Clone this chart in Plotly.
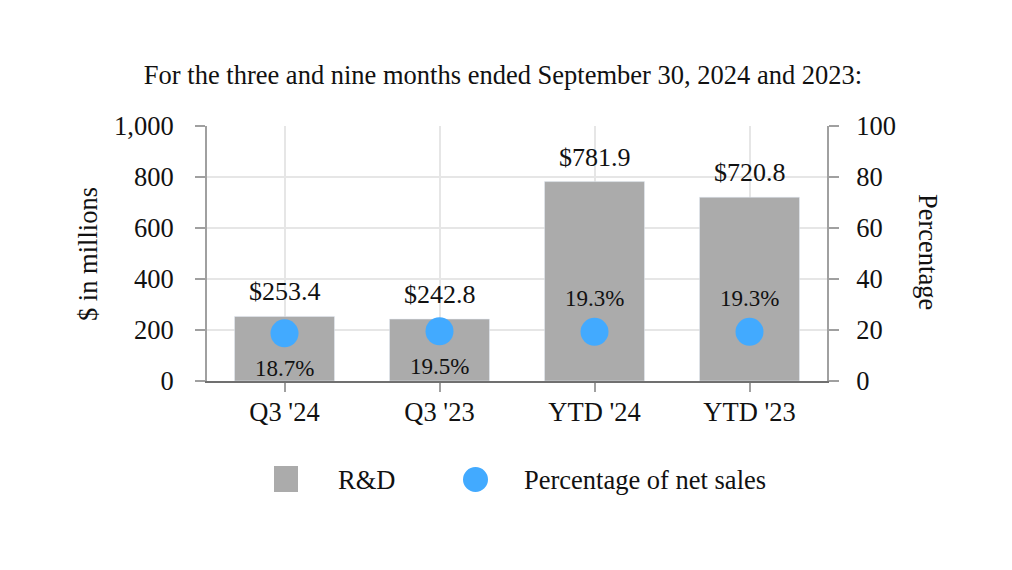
import plotly.graph_objects as go

categories = ["Q3 '24", "Q3 '23", "YTD '24", "YTD '23"]
rd_values = [253.4, 242.8, 781.9, 720.8]
pct_values = [18.7, 19.5, 19.3, 19.3]
rd_labels = ["$253.4", "$242.8", "$781.9", "$720.8"]
pct_labels = ["18.7%", "19.5%", "19.3%", "19.3%"]
pct_label_below = [True, True, False, False]
left_ticks = [0, 200, 400, 600, 800, 1000]
right_ticks = [0, 20, 40, 60, 80, 100]

FONT = "Liberation Serif"
BAR_COLOR = "#ABABAB"
DOT_COLOR = "#42AAFF"
TXT = "#111111"
FS = 26.5

W, H = 1012, 570
OFF = 8  # default page body margin
L, R, T, B = 207, 827, 126, 381


def px(x):
    return (x - L) / (R - L)


def py(y):
    return (B - y) / (B - T)


fig = go.Figure()
fig.add_trace(go.Bar(x=categories, y=rd_values, marker_color=BAR_COLOR,
                     width=0.645, name="R&D", showlegend=False, yaxis="y"))
fig.add_trace(go.Scatter(x=categories, y=pct_values, mode="markers",
                         marker=dict(color=DOT_COLOR, size=28),
                         name="Percentage of net sales", showlegend=False, yaxis="y2"))

annotations = []
for c, v, t in zip(categories, rd_values, rd_labels):
    annotations.append(dict(x=c, y=v, xref="x", yref="y", text=t, showarrow=False,
                            yanchor="bottom", yshift=8,
                            font=dict(family=FONT, size=26, color=TXT)))
for c, v, t, below in zip(categories, pct_values, pct_labels, pct_label_below):
    annotations.append(dict(x=c, y=v, xref="x", yref="y2", text=t, showarrow=False,
                            yanchor="middle", yshift=-35 if below else 33,
                            font=dict(family=FONT, size=23, color=TXT)))

# axis titles
annotations.append(dict(x=px(928), y=py(252), xref="paper", yref="paper",
                        text="Percentage", textangle=90, showarrow=False,
                        xanchor="center", yanchor="middle",
                        font=dict(family=FONT, size=FS, color=TXT)))
annotations.append(dict(x=px(88), y=py(254), xref="paper", yref="paper",
                        text="$ in millions", textangle=-90, showarrow=False,
                        xanchor="center", yanchor="middle",
                        font=dict(family=FONT, size=FS, color=TXT)))
# legend
annotations.append(dict(x=px(336), y=py(480), xref="paper", yref="paper",
                        text="R&D", showarrow=False, xanchor="left", yanchor="middle",
                        font=dict(family=FONT, size=FS, color=TXT)))
annotations.append(dict(x=px(522), y=py(480), xref="paper", yref="paper",
                        text="Percentage of net sales", showarrow=False,
                        xanchor="left", yanchor="middle",
                        font=dict(family=FONT, size=FS, color=TXT)))

shapes = [
    dict(type="rect", xref="paper", yref="paper", x0=px(274), x1=px(298),
         y0=py(492), y1=py(466), fillcolor=BAR_COLOR, line=dict(width=0)),
    dict(type="circle", xref="paper", yref="paper", x0=px(463), x1=px(488),
         y0=py(492), y1=py(467), fillcolor=DOT_COLOR, line=dict(width=0)),
]

FW, FH = W - OFF, H - OFF
fig.update_layout(
    width=FW, height=FH,
    margin=dict(l=L - OFF, r=W - R, t=T - OFF, b=H - B),
    paper_bgcolor="white", plot_bgcolor="white",
    font=dict(family=FONT, size=FS, color=TXT),
    title=dict(text="For the three and nine months ended September 30, 2024 and 2023:",
               x=(503 - OFF) / FW, xanchor="center", y=1 - (75 - OFF) / FH,
               yanchor="middle",
               font=dict(family=FONT, size=FS, color=TXT)),
    xaxis=dict(showgrid=True, gridcolor="#E6E6E6", gridwidth=1.5,
               showline=True, linecolor="#707070", linewidth=2,
               ticks="outside", ticklen=9, tickcolor="#A0A0A0", tickwidth=2,
               tickfont=dict(family=FONT, size=FS), ticklabelstandoff=-3),
    yaxis=dict(range=[0, 1000], tickvals=left_ticks, tickformat=",",
               showgrid=True, gridcolor="#E6E6E6", gridwidth=1.5,
               showline=True, linecolor="#A0A0A0", linewidth=2,
               ticks="outside", ticklen=10, tickcolor="#A0A0A0", tickwidth=2,
               ticklabelstandoff=16, zeroline=False,
               tickfont=dict(family=FONT, size=FS)),
    yaxis2=dict(range=[0, 100], tickvals=right_ticks, overlaying="y", side="right",
                showgrid=False, showline=True, linecolor="#A0A0A0", linewidth=2,
                ticks="outside", ticklen=10, tickcolor="#A0A0A0", tickwidth=2,
                ticklabelstandoff=12, zeroline=False,
                tickfont=dict(family=FONT, size=FS)),
    annotations=annotations,
    shapes=shapes,
    showlegend=False,
    bargap=0.355,
)

fig.write_html("out.html")
